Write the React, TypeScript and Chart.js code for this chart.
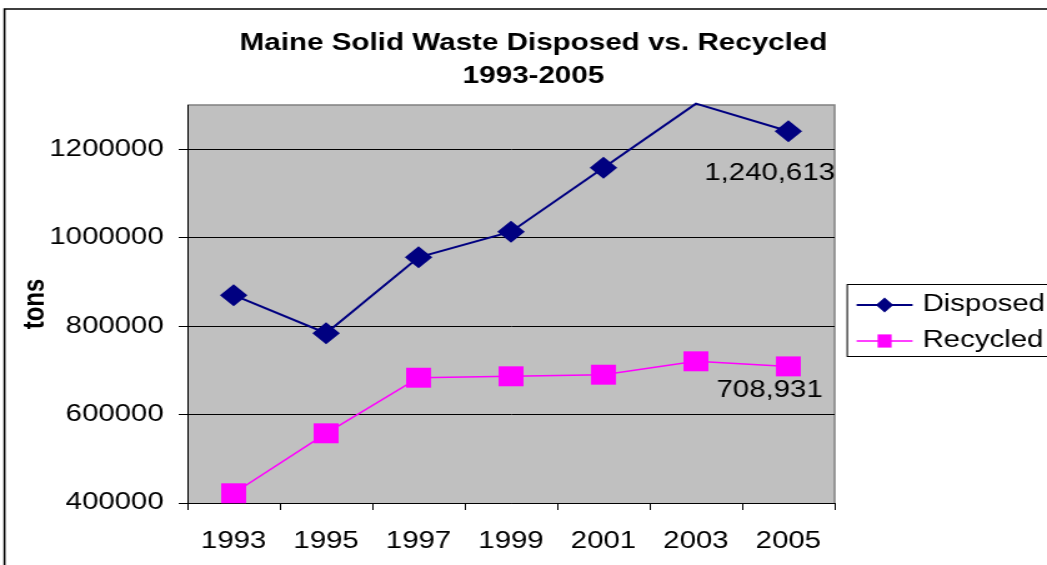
import React, { useEffect, useRef } from "react";
import { Chart, registerables } from "chart.js";

Chart.register(...registerables);

const YEARS = ["1993", "1995", "1997", "1999", "2001", "2003", "2005"];
const DISPOSED = [870000, 784000, 955500, 1013400, 1158100, 1303000, 1240613];
const RECYCLED = [422000, 557600, 683300, 686500, 690100, 720400, 708931];
const Y_TICKS = [400000, 600000, 800000, 1000000, 1200000];
const Y_MIN = 400000;
const Y_MAX = 1300000;
const TITLE_LINES = ["Maine Solid Waste Disposed vs. Recycled", "1993-2005"];
const Y_TITLE = "tons";
const SERIES_NAMES = ["Disposed", "Recycled"];
const LAST_LABELS = ["1,240,613", "708,931"];

const FAMILY = '"Liberation Sans", Arial, Helvetica, sans-serif';
const NAVY = "#000080";
const MAGENTA = "#FF00FF";
const W = 838;
const H = 565;

const decorPlugin = {
  id: "decor",
  beforeDraw(chart: any) {
    const ctx = chart.ctx;
    const a = chart.chartArea;
    ctx.save();
    ctx.fillStyle = "#ffffff";
    ctx.fillRect(0, 0, chart.width, chart.height);
    // outer frame (top + left visible)
    ctx.strokeStyle = "#000000";
    ctx.lineWidth = 1.6;
    ctx.beginPath();
    ctx.moveTo(3.6, chart.height + 5);
    ctx.lineTo(3.6, 9);
    ctx.lineTo(chart.width + 5, 9);
    ctx.stroke();
    // plot area
    ctx.fillStyle = "#C0C0C0";
    ctx.fillRect(a.left, a.top, a.right - a.left, a.bottom - a.top);
    ctx.strokeStyle = "#808080";
    ctx.lineWidth = 1.5;
    ctx.beginPath();
    ctx.moveTo(a.left, a.top);
    ctx.lineTo(a.right, a.top);
    ctx.lineTo(a.right, a.bottom);
    ctx.stroke();
    ctx.restore();
  },
  afterDatasetsDraw(chart: any) {
    const ctx = chart.ctx;
    const dys = [42, 24];
    ctx.save();
    ctx.fillStyle = "#000000";
    ctx.font = `23.5px ${FAMILY}`;
    ctx.textAlign = "center";
    ctx.textBaseline = "middle";
    chart.data.datasets.forEach((ds: any, i: number) => {
      const meta = chart.getDatasetMeta(i);
      const pt = meta.data[meta.data.length - 1];
      ctx.fillText(LAST_LABELS[i], pt.x - 15, pt.y + dys[i]);
    });
    ctx.restore();
  },
  afterDraw(chart: any) {
    const ctx = chart.ctx;
    ctx.save();
    // title
    ctx.fillStyle = "#000000";
    ctx.font = `bold 23.7px ${FAMILY}`;
    ctx.textAlign = "center";
    ctx.textBaseline = "middle";
    ctx.fillText(TITLE_LINES[0], 427, 43);
    ctx.fillText(TITLE_LINES[1], 427, 76);
    // legend
    const bx = 677.6;
    const by = 284;
    ctx.strokeStyle = "#000000";
    ctx.lineWidth = 1;
    ctx.strokeRect(bx + 0.5, by + 0.5, 300, 72);
    const rows = [305, 341];
    chart.data.datasets.forEach((ds: any, i: number) => {
      const y = rows[i];
      ctx.strokeStyle = ds.borderColor;
      ctx.lineWidth = ds.borderWidth;
      ctx.beginPath();
      ctx.moveTo(685.6, y);
      ctx.lineTo(730.4, y);
      ctx.stroke();
      ctx.fillStyle = ds.backgroundColor;
      const cx = 708;
      ctx.beginPath();
      if (ds.pointStyle === "rectRot") {
        ctx.moveTo(cx - 7, y);
        ctx.lineTo(cx, y - 7.5);
        ctx.lineTo(cx + 7, y);
        ctx.lineTo(cx, y + 7.5);
        ctx.closePath();
      } else {
        ctx.rect(cx - 5.6, y - 6.6, 11.2, 13.2);
      }
      ctx.fill();
      ctx.fillStyle = "#000000";
      ctx.font = `23.5px ${FAMILY}`;
      ctx.textAlign = "left";
      ctx.textBaseline = "middle";
      ctx.fillText(ds.label, 738.4, y);
    });
    ctx.restore();
  },
};

export default function App() {
  const ref = useRef<HTMLCanvasElement | null>(null);

  useEffect(() => {
    if (!ref.current) return;
    const chart = new Chart(ref.current, {
      type: "line",
      data: {
        labels: YEARS,
        datasets: [
          {
            label: SERIES_NAMES[0],
            data: DISPOSED,
            borderColor: NAVY,
            backgroundColor: NAVY,
            borderWidth: 2,
            pointStyle: "rectRot",
            pointRadius: (c: any) => (c.raw > Y_MAX ? 0 : 11),
            pointBorderWidth: 0,
            pointBackgroundColor: NAVY,
            pointBorderColor: NAVY,
            tension: 0,
            clip: false,
          } as any,
          {
            label: SERIES_NAMES[1],
            data: RECYCLED,
            borderColor: MAGENTA,
            backgroundColor: MAGENTA,
            borderWidth: 1.5,
            pointStyle: "rect",
            pointRadius: 14.1,
            pointBorderWidth: 0,
            pointBackgroundColor: MAGENTA,
            pointBorderColor: MAGENTA,
            tension: 0,
            clip: false,
          } as any,
        ],
      },
      options: {
        animation: false,
        responsive: false,
        devicePixelRatio: 1,
        events: [],
        layout: { padding: { left: 0, right: 170, top: 105, bottom: 0 } },
        plugins: {
          legend: { display: false },
          title: { display: false },
          tooltip: { enabled: false },
        },
        scales: {
          x: {
            type: "category",
            offset: true,
            afterFit: (s: any) => {
              s.height = 62;
            },
            grid: {
              offset: true,
              drawOnChartArea: false,
              drawTicks: true,
              tickLength: 7,
              color: "#000000",
            },
            border: { color: "#000000", width: 1 },
            ticks: {
              color: "#000000",
              font: { size: 23.5, family: FAMILY },
              padding: 17,
              maxRotation: 0,
              autoSkip: false,
            },
          },
          y: {
            min: Y_MIN,
            max: Y_MAX,
            afterBuildTicks: (s: any) => {
              s.ticks = Y_TICKS.map((v) => ({ value: v }));
            },
            afterFit: (s: any) => {
              s.width = 150;
            },
            grid: { color: "#000000", lineWidth: 1, tickLength: 7, drawTicks: true },
            border: { color: "#000000", width: 1 },
            ticks: {
              color: "#000000",
              font: { size: 23.5, family: FAMILY },
              padding: 12,
              callback: (v: any) => String(v),
            },
            title: {
              display: true,
              text: Y_TITLE,
              color: "#000000",
              font: { size: 24, weight: "bold", family: FAMILY },
              padding: { top: 13.6, bottom: 0 },
            },
          },
        },
      } as any,
      plugins: [decorPlugin],
    });
    return () => chart.destroy();
  }, []);

  return (
    <div style={{ position: "fixed", left: 0, top: 0, width: "1047px", height: "565px", overflow: "hidden", background: "#fff" }}>
      <canvas
        ref={ref}
        width={W}
        height={H}
        style={{ width: "1047px", height: "565px", display: "block" }}
      />
    </div>
  );
}
